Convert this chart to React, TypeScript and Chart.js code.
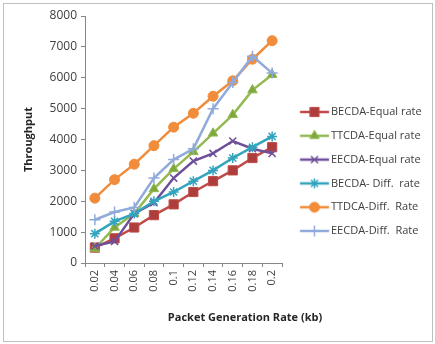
import React, { useEffect, useRef } from 'react';
import { Chart, registerables } from 'chart.js';
import { drawPoint } from 'chart.js/helpers';

Chart.register(...registerables);

// ---------- data ----------
const categories = ['0.02', '0.04', '0.06', '0.08', '0.1', '0.12', '0.14', '0.16', '0.18', '0.2'];
const becdaEqual = [500, 800, 1150, 1550, 1900, 2300, 2650, 3000, 3400, 3750];
const ttcdaEqual = [470, 1150, 1600, 2400, 3050, 3600, 4200, 4800, 5600, 6100];
const eecdaEqual = [550, 700, 1600, 1950, 2750, 3300, 3550, 3950, 3700, 3550];
const becdaDiff = [950, 1350, 1600, 2000, 2300, 2650, 3000, 3400, 3750, 4100];
const ttdcaDiff = [2100, 2700, 3200, 3800, 4400, 4850, 5400, 5900, 6600, 7200];
const eecdaDiff = [1400, 1650, 1800, 2750, 3350, 3700, 5000, 5850, 6700, 6150];
const seriesLabels = [
  'BECDA-Equal rate',
  'TTCDA-Equal rate',
  'EECDA-Equal rate',
  'BECDA- Diff.  rate',
  'TTDCA-Diff.  Rate',
  'EECDA-Diff.  Rate',
];
const seriesValues = [becdaEqual, ttcdaEqual, eecdaEqual, becdaDiff, ttdcaDiff, eecdaDiff];
const yMin = 0;
const yMax = 8000;
const yStep = 1000;
const xTitle = 'Packet Generation Rate (kb)';
const yTitle = 'Throughput';

// ---------- styles ----------
const FONT = "'Open Sans', 'Liberation Sans', sans-serif";
const AXIS = '#868686';
const TEXT = '#404040';
const styles = [
  { line: '#BE4B48', fill: '#AE3E3B', point: 'rect', radius: 6.5, bw: 1 },
  { line: '#93B953', fill: '#7EA83E', point: 'triangle', radius: 5.5, bw: 1 },
  { line: '#6E4F9A', fill: '#6E4F9A', point: 'crossRot', radius: 5, bw: 1.5 },
  { line: '#33A4BD', fill: '#33A4BD', point: 'star', radius: 5, bw: 1.5 },
  { line: '#F08C3A', fill: '#F08C3A', point: 'circle', radius: 5, bw: 1 },
  { line: '#90AADB', fill: '#90AADB', point: 'cross', radius: 5.5, bw: 1.5 },
];

const LEG_FONT = 11;
const LEG_PAD = 12.8;
const BOX_W = 30.7;
const IMG_W = 40;
const IMG_H = 14;
const X_TITLE_SHIFT = 61.5;

function legendImage(s: any) {
  const c = document.createElement('canvas');
  c.width = IMG_W;
  c.height = IMG_H;
  const ctx = c.getContext('2d') as CanvasRenderingContext2D;
  // image left edge relative to text start
  const imgLeft = -(LEG_FONT / 2) - BOX_W / 2 - IMG_W / 2;
  const lineFrom = -31 - imgLeft;
  const lineTo = -2 - imgLeft;
  const markX = -16.5 - imgLeft;
  ctx.strokeStyle = s.line;
  ctx.lineWidth = 2.5;
  ctx.beginPath();
  ctx.moveTo(lineFrom, IMG_H / 2);
  ctx.lineTo(lineTo, IMG_H / 2);
  ctx.stroke();
  ctx.fillStyle = s.fill;
  ctx.strokeStyle = s.line;
  ctx.lineWidth = s.bw;
  drawPoint(ctx, { pointStyle: s.point, radius: s.radius, rotation: 0, borderWidth: s.bw } as any, markX, IMG_H / 2);
  return c;
}

export default function App() {
  const ref = useRef<HTMLCanvasElement | null>(null);

  useEffect(() => {
    const canvas = ref.current;
    if (!canvas) return;
    const imgs = styles.map(legendImage);
    const chart = new Chart(canvas, {
      type: 'line',
      data: {
        labels: categories,
        datasets: seriesValues.map((vals, i) => ({
          label: seriesLabels[i],
          data: vals,
          borderColor: styles[i].line,
          backgroundColor: styles[i].fill,
          borderWidth: 2.5,
          tension: 0,
          fill: false,
          pointStyle: styles[i].point as any,
          pointRadius: styles[i].radius,
          pointBorderWidth: styles[i].bw,
          pointBackgroundColor: styles[i].fill,
          pointBorderColor: styles[i].line,
          order: seriesValues.length - i,
        })),
      },
      options: {
        responsive: false,
        animation: false,
        events: [],
        layout: { padding: { left: 10, right: 5, top: 16, bottom: 17 } },
        plugins: {
          tooltip: { enabled: false },
          legend: {
            position: 'right',
            align: 'center',
            maxWidth: 148,
            labels: {
              usePointStyle: true,
              pointStyleWidth: BOX_W,
              padding: LEG_PAD,
              color: TEXT,
              font: { family: FONT, size: LEG_FONT },
              generateLabels: (ch: any) =>
                ch.data.datasets.map((ds: any, i: number) => ({
                  text: ds.label,
                  fillStyle: styles[i].fill,
                  strokeStyle: styles[i].line,
                  lineWidth: 0,
                  pointStyle: imgs[i],
                  hidden: false,
                  datasetIndex: i,
                  fontColor: TEXT,
                })),
            },
          },
        },
        scales: {
          x: {
            type: 'category',
            offset: true,
            grid: { display: true, drawOnChartArea: false, drawTicks: true, tickLength: 4, offset: true, color: AXIS },
            border: { display: true, color: AXIS, width: 1 },
            ticks: { autoSkip: false, minRotation: 90, maxRotation: 90, padding: 3, color: TEXT, font: { family: FONT, size: 11 } },
            title: {
              display: true,
              text: xTitle,
              color: '#262626',
              font: { family: FONT, size: 11, weight: 'bold' },
              padding: { top: 0, bottom: 2.4 },
            },
            afterFit: (scale: any) => {
              scale.height = 64;
              if (!scale.__shifted) {
                const orig = scale.drawTitle;
                scale.drawTitle = function (this: any) {
                  this.ctx.save();
                  this.ctx.translate(X_TITLE_SHIFT, 0);
                  orig.call(this);
                  this.ctx.restore();
                };
                scale.__shifted = true;
              }
            },
          },
          y: {
            min: yMin,
            max: yMax,
            grid: { display: true, drawOnChartArea: false, drawTicks: true, tickLength: 4, color: AXIS },
            border: { display: true, color: AXIS, width: 1 },
            ticks: {
              stepSize: yStep,
              padding: 4,
              color: TEXT,
              font: { family: FONT, size: 12 },
              callback: (v: any) => String(v),
            },
            title: {
              display: true,
              text: yTitle,
              color: '#262626',
              font: { family: FONT, size: 11, weight: 'bold' },
              padding: { top: 12.4, bottom: 0 },
            },
            afterFit: (scale: any) => {
              scale.width = 75;
            },
          },
        },
      } as any,
    });
    return () => chart.destroy();
  }, []);

  return (
    <div>
      <div
        style={{
          position: 'absolute',
          left: 3,
          top: 3,
          width: 430,
          height: 339,
          border: '1px solid #BFBFBF',
          boxSizing: 'border-box',
          background: '#fff',
        }}
      />
      <canvas ref={ref} width={435} height={344} style={{ position: 'absolute', left: 0, top: 0, width: 435, height: 344 }} />
    </div>
  );
}
